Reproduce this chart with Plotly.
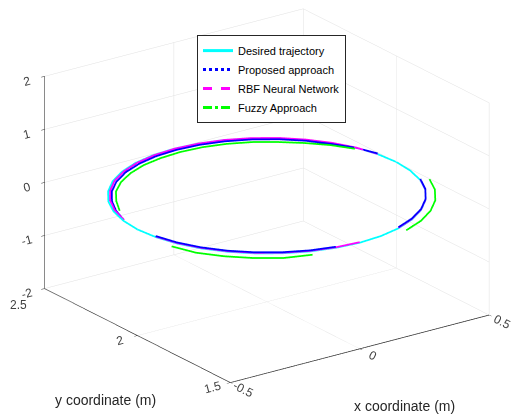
import plotly.graph_objects as go

# ---- data (10-degree steps around the trajectory) ----
desired_x = [0.5, 0.492, 0.470, 0.433, 0.383, 0.321, 0.25, 0.171, 0.087, 0.0,
             -0.087, -0.171, -0.25, -0.321, -0.383, -0.433, -0.470, -0.492, -0.5,
             -0.492, -0.470, -0.433, -0.383, -0.321, -0.25, -0.171, -0.087, 0.0,
             0.087, 0.171, 0.25, 0.321, 0.383, 0.433, 0.470, 0.492, 0.5]
desired_y = [2.0, 2.087, 2.171, 2.25, 2.321, 2.383, 2.433, 2.470, 2.492, 2.5,
             2.492, 2.470, 2.433, 2.383, 2.321, 2.25, 2.171, 2.087, 2.0,
             1.913, 1.829, 1.75, 1.679, 1.617, 1.567, 1.530, 1.508, 1.5,
             1.508, 1.530, 1.567, 1.617, 1.679, 1.75, 1.829, 1.913, 2.0]
desired_z = [0.0] * 37

N = None
proposed_x = [N, 0.490, 0.466, 0.424, 0.375, 0.314, 0.243, 0.166, 0.084, 0.0,
              -0.084, -0.166, -0.243, -0.314, -0.375, -0.424, -0.462, -0.490, N,
              -0.492, -0.470, -0.433, -0.383, -0.321, -0.25, -0.171, -0.087, N,
              N, 0.171, 0.25, 0.321, 0.383, 0.433, 0.470, N, N]
proposed_y = [N, 2.086, 2.169, 2.243, 2.312, 2.372, 2.421, 2.456, 2.478, 2.485,
              2.478, 2.456, 2.421, 2.372, 2.312, 2.243, 2.168, 2.086, N,
              1.913, 1.829, 1.75, 1.679, 1.617, 1.567, 1.530, 1.508, N,
              N, 1.530, 1.567, 1.617, 1.679, 1.75, 1.829, N, N]
proposed_z = [N, 0.02, 0.01, 0.005, 0.005, 0.005, 0.005, 0.005, 0.005, 0.005,
              0.005, 0.005, 0.005, 0.005, 0.005, 0.005, 0.005, 0.01, N,
              0.02, 0.02, 0.02, 0.02, 0.02, 0.02, 0.02, 0.02, N,
              N, 0.02, 0.02, 0.02, 0.02, 0.02, 0.02, N, N]

rbf_x = [N, 0.490, 0.466, 0.428, 0.378, 0.317, 0.246, 0.169, 0.086, 0.0,
         -0.086, -0.169, -0.246, -0.317, -0.378, -0.428, -0.466, -0.490, N,
         -0.492, -0.470, -0.433, -0.383, -0.321, -0.25, -0.171, -0.087, 0.0,
         N, 0.171, 0.25, 0.321, 0.383, 0.433, 0.470, N, N]
rbf_y = [N, 2.086, 2.169, 2.247, 2.317, 2.378, 2.427, 2.463, 2.485, 2.493,
         2.485, 2.463, 2.427, 2.378, 2.317, 2.247, 2.169, 2.086, N,
         1.913, 1.829, 1.75, 1.679, 1.617, 1.567, 1.530, 1.508, 1.5,
         N, 1.530, 1.567, 1.617, 1.679, 1.75, 1.829, N, N]
rbf_z = [N, 0.01, 0.015, 0.015, 0.015, 0.015, 0.015, 0.015, 0.015, 0.015,
         0.015, 0.015, 0.015, 0.015, 0.015, 0.015, 0.015, 0.01, N,
         0.01, 0.01, 0.01, 0.01, 0.01, 0.01, 0.01, 0.01, 0.01,
         N, 0.01, 0.01, 0.01, 0.01, 0.01, 0.01, N, N]

fuzzy_x = [N, N, 0.461, 0.416, 0.360, 0.299, 0.233, 0.159, 0.081, 0.0,
           -0.081, -0.160, -0.235, -0.304, -0.364, -0.411, -0.451, N, N,
           N, -0.498, -0.468, -0.414, -0.347, -0.270, -0.181, N, N,
           N, 0.181, 0.265, 0.341, 0.406, 0.459, 0.498, N, N]
fuzzy_y = [N, N, 2.168, 2.240, 2.302, 2.356, 2.403, 2.437, 2.458, 2.465,
           2.458, 2.440, 2.407, 2.362, 2.305, 2.238, 2.164, N, N,
           N, 1.819, 1.730, 1.653, 1.586, 1.532, 1.502, N, N,
           N, 1.502, 1.541, 1.594, 1.659, 1.735, 1.818, N, N]
fuzzy_z = [0.0] * 37

names = ["Desired trajectory", "Proposed approach", "RBF Neural Network", "Fuzzy Approach"]
colors = ["#00ffff", "#0000ff", "#ff00ff", "#00ff00"]
dashes = ["solid", "dot", "dash", "dashdot"]

x_ticks = [-0.5, 0, 0.5]
y_ticks = [1.5, 2, 2.5]
z_ticks = [-2, -1, 0, 1, 2]

series = [(desired_x, desired_y, desired_z),
          (proposed_x, proposed_y, proposed_z),
          (rbf_x, rbf_y, rbf_z),
          (fuzzy_x, fuzzy_y, fuzzy_z)]

fig = go.Figure()
for (sx, sy, sz), c in zip(series, colors):
    fig.add_trace(go.Scatter3d(x=sx, y=sy, z=sz, mode="lines",
                               line=dict(color=c, width=3.5),
                               showlegend=False, hoverinfo="skip"))
# legend entries with the line styles
for nm, c, d in zip(names, colors, dashes):
    fig.add_trace(go.Scatter3d(x=[None], y=[None], z=[None], mode="lines",
                               name=nm, line=dict(color=c, width=3, dash=d)))

ax_common = dict(showgrid=True, gridcolor="#e0e0e0", gridwidth=1,
                 showline=True, linecolor="#262626", linewidth=1.5,
                 showbackground=False, zeroline=False,
                 ticks="outside", ticklen=4, tickcolor="#262626",
                 tickfont=dict(family="Liberation Sans, Arial", size=12, color="#404040"),
                 showspikes=False, autorange=False, title=dict(text=""))

s = 1.528
fig.update_layout(
    width=525, height=417,
    margin=dict(l=0, r=0, t=0, b=0),
    paper_bgcolor="white",
    font=dict(family="Liberation Sans, Arial", color="#262626"),
    scene=dict(
        domain=dict(x=[0, 1.0], y=[0, 1.0]),
        xaxis=dict(ax_common, range=[-0.5, 0.5], tickvals=x_ticks, ticktext=["-0.5", "0", "0.5"]),
        yaxis=dict(ax_common, range=[1.5, 2.5], tickvals=y_ticks, ticktext=["1.5", "2", ""]),
        zaxis=dict(ax_common, range=[-2, 2], tickvals=z_ticks, ticktext=["-2", "-1", "0", "1", "2"]),
        aspectmode="manual",
        aspectratio=dict(x=1 * s, y=1 * s, z=0.715 * s),
        camera=dict(projection=dict(type="orthographic"),
                    eye=dict(x=-0.531 * 1.6, y=-0.758 * 1.6, z=0.294 * 1.6),
                    center=dict(x=0.014, y=-0.0105, z=-0.107), up=dict(x=0, y=0, z=1)),
    ),
    legend=dict(x=0.36, y=0.935, xanchor="left", yanchor="top",
                bgcolor="white", bordercolor="#262626", borderwidth=1,
                font=dict(family="Liberation Sans, Arial", size=11, color="#000000"),
                tracegroupgap=0, itemwidth=30),
    annotations=[
        dict(text="2.5", x=0.0, y=0.288, xref="paper", yref="paper",
             showarrow=False, xanchor="left", yanchor="middle",
             font=dict(family="Liberation Sans, Arial", size=12, color="#404040")),
        dict(text="y coordinate (m)", x=0.185, y=0.06, xref="paper", yref="paper",
             showarrow=False, xanchor="center", yanchor="middle",
             font=dict(family="Liberation Sans, Arial", size=14, color="#262626")),
        dict(text="x coordinate (m)", x=0.756, y=0.046, xref="paper", yref="paper",
             showarrow=False, xanchor="center", yanchor="middle",
             font=dict(family="Liberation Sans, Arial", size=14, color="#262626")),
    ],
)

fig.write_html("out.html")
